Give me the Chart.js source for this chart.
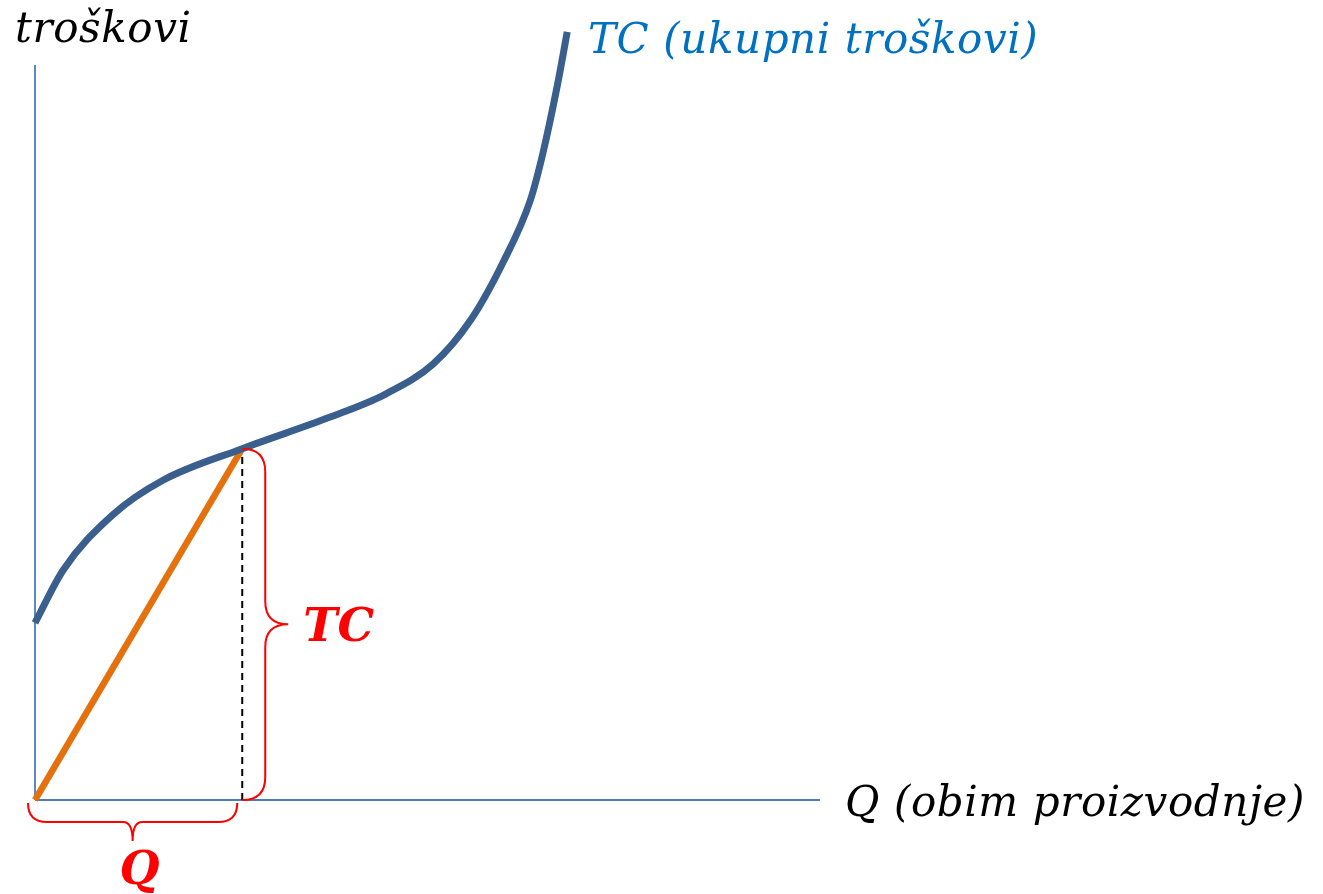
<!DOCTYPE html>
<html>
<head>
<meta charset="utf-8">
<script src="https://cdn.jsdelivr.net/npm/chart.js@4/dist/chart.umd.min.js"></script>
<style>
  html, body { margin: 0; padding: 0; background: #fff; }
</style>
</head>
<body>
<canvas id="tcChart" width="1323" height="894"></canvas>
<script>
// TC curve (Q = obim proizvodnje, C = troškovi)
const tcQ      = [0, 3.6, 9.9, 16.3, 26.4, 37.6, 44.6, 50.7, 55.5, 59.6, 63.1, 64.7, 66.5, 67.8];
const tcValues = [24.1, 31.3, 38.8, 43.5, 47.8, 52.1, 55.2, 59.3, 65.3, 73.1, 81.6, 88.0, 97.0, 104.5];

// chosen output level and its total cost
const pointQ = 26.4;
const pointTC = 47.8;

// axis extents
const axisMaxQ = 100;
const axisMaxC = 100;

// texts
const yAxisTitle = 'troškovi';
const xAxisTitle = 'Q (obim proizvodnje)';
const curveLabel = 'TC (ukupni troškovi)';
const braceLabelTC = 'TC';
const braceLabelQ = 'Q';

const serif = '"DejaVu Serif", "Liberation Serif", serif';

const tcPoints = tcQ.map((q, i) => ({ x: q, y: tcValues[i] }));

// draws the braces and all the texts
const annotations = {
    id: 'annotations',
    afterDatasetsDraw(chart) {
        const ctx = chart.ctx;
        const xs = chart.scales.x;
        const ys = chart.scales.y;
        const px = xs.getPixelForValue(pointQ);
        const py = ys.getPixelForValue(pointTC);
        const x0 = xs.getPixelForValue(0);
        const y0 = ys.getPixelForValue(0);

        ctx.save();
        ctx.strokeStyle = '#ff0000';
        ctx.lineWidth = 2;

        // vertical brace (TC)
        const d = 23;
        const ym = (py + y0) / 2;
        ctx.beginPath();
        ctx.moveTo(px, py);
        ctx.quadraticCurveTo(px + d, py, px + d, py + d);
        ctx.lineTo(px + d, ym - d);
        ctx.quadraticCurveTo(px + d, ym, px + 2 * d, ym);
        ctx.quadraticCurveTo(px + d, ym, px + d, ym + d);
        ctx.lineTo(px + d, y0 - d);
        ctx.quadraticCurveTo(px + d, y0, px, y0);
        ctx.stroke();

        // horizontal brace (Q)
        const bl = x0 - 7, br = px - 5, by = y0 + 3, h = 19;
        const bm = (bl + br) / 2;
        ctx.beginPath();
        ctx.moveTo(bl, by);
        ctx.quadraticCurveTo(bl, by + h, bl + h, by + h);
        ctx.lineTo(bm - h / 2, by + h);
        ctx.quadraticCurveTo(bm, by + h, bm, by + 2 * h);
        ctx.quadraticCurveTo(bm, by + h, bm + h / 2, by + h);
        ctx.lineTo(br - h, by + h);
        ctx.quadraticCurveTo(br, by + h, br, by);
        ctx.stroke();

        // red brace labels
        ctx.fillStyle = '#ff0000';
        ctx.font = 'italic bold 46px ' + serif;
        ctx.textAlign = 'left';
        ctx.textBaseline = 'alphabetic';
        ctx.fillText(braceLabelTC, px + 2 * d + 15, ym + 17);
        ctx.textAlign = 'center';
        ctx.fillText(braceLabelQ, bm + 7, y0 + 84);

        // axis titles
        ctx.font = 'italic 42px ' + serif;
        ctx.letterSpacing = '0.6px';
        ctx.textAlign = 'left';
        ctx.fillStyle = '#000000';
        ctx.fillText(yAxisTitle, 15, 42);
        ctx.fillText(xAxisTitle, 845, 816);

        // curve label
        ctx.fillStyle = '#0070c0';
        ctx.fillText(curveLabel, 588, 53);
        ctx.restore();
    }
};

new Chart(document.getElementById('tcChart').getContext('2d'), {
    type: 'line',
    data: {
        datasets: [
            {
                // TC curve
                data: tcPoints,
                borderColor: '#3a5f8d',
                borderWidth: 7,
                borderCapStyle: 'butt',
                cubicInterpolationMode: 'monotone',
                pointRadius: 0,
                clip: false,
                order: 1
            },
            {
                // ray from origin to the chosen point
                data: [{ x: 0, y: 0 }, { x: pointQ, y: pointTC }],
                borderColor: '#e5700e',
                borderWidth: 6.5,
                borderCapStyle: 'butt',
                pointRadius: 0,
                clip: false,
                order: 2
            },
            {
                // dashed drop line
                data: [{ x: pointQ, y: 0 }, { x: pointQ, y: pointTC }],
                borderColor: '#000000',
                borderWidth: 2,
                borderDash: [7, 5],
                pointRadius: 0,
                clip: false,
                order: 3
            },
            {
                // x axis
                data: [{ x: 0, y: 0 }, { x: axisMaxQ, y: 0 }],
                borderColor: '#4a7ebb',
                borderWidth: 1.8,
                pointRadius: 0,
                clip: false,
                order: 4
            },
            {
                // y axis
                data: [{ x: 0, y: 0 }, { x: 0, y: axisMaxC }],
                borderColor: '#4a7ebb',
                borderWidth: 1.8,
                pointRadius: 0,
                clip: false,
                order: 4
            }
        ]
    },
    options: {
        responsive: false,
        animation: false,
        devicePixelRatio: 1,
        layout: {
            padding: { left: 35, right: 503, top: 65, bottom: 94 }
        },
        plugins: {
            legend: { display: false },
            tooltip: { enabled: false }
        },
        scales: {
            x: { type: 'linear', min: 0, max: axisMaxQ, display: false },
            y: { type: 'linear', min: 0, max: axisMaxC, display: false }
        }
    },
    plugins: [annotations]
});
</script>
</body>
</html>
